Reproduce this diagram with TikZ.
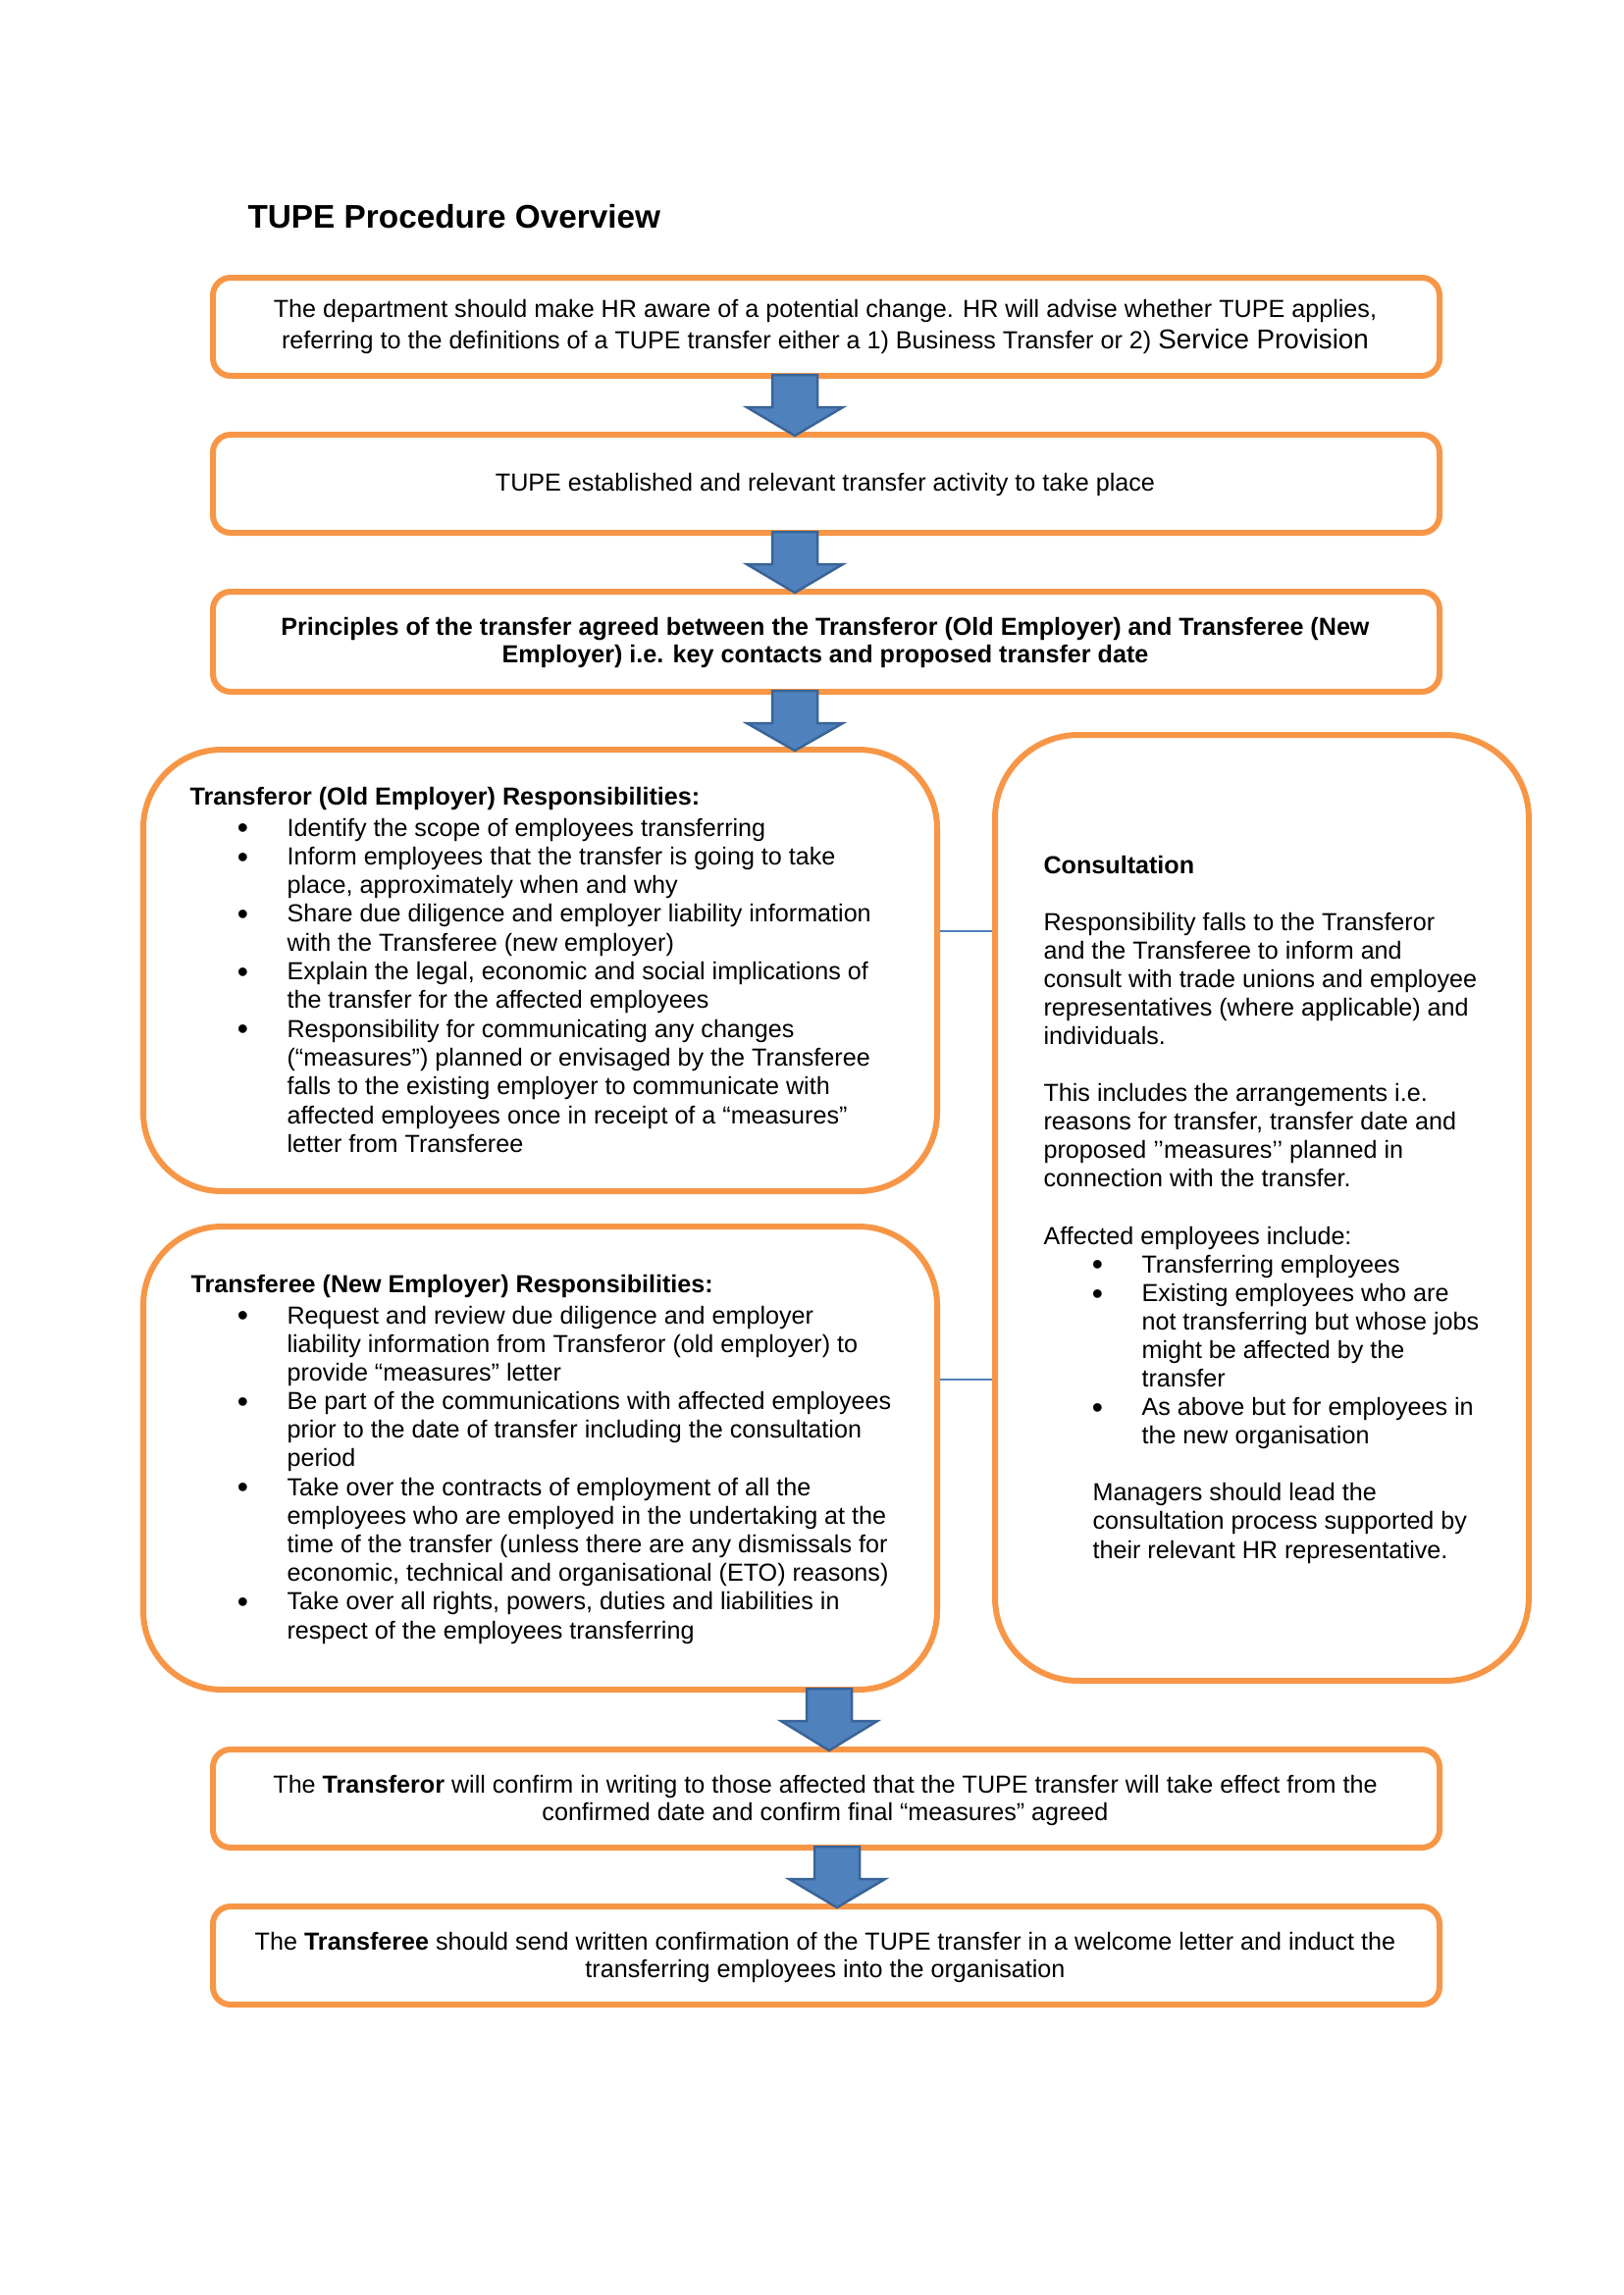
\documentclass[tikz,border=0pt]{standalone}
\usepackage{fontspec}
\setmainfont{Liberation Sans}
\usetikzlibrary{calc}
\definecolor{org}{HTML}{F79646}
\definecolor{blu}{HTML}{4F81BD}
\definecolor{bluD}{HTML}{3A6497}
\newcommand\CL[1]{\vtop{\halign{\hfil##\hfil\cr#1\crcr}}}
\newcommand\LL[1]{\vtop{\halign{##\hfil\cr#1\crcr}}}
\newcommand\bul{\llap{\raisebox{-1.0pt}{\fontsize{11.5pt}{0pt}\selectfont •}\hskip14.2pt}}
\newcommand\indA{\hskip36pt}
\newcommand\blockarrow[3]{%
  \draw[barrow] ($(#1 |- #2.south)+(-23,-4)$) -- ($(#1 |- #2.south)+(-23,29)$)
    -- ($(#1 |- #2.south)+(-49,29)$) -- ($(#1 |- #3.north)+(0,4)$)
    -- ($(#1 |- #2.south)+(49,29)$) -- ($(#1 |- #2.south)+(23,29)$)
    -- ($(#1 |- #2.south)+(23,-4)$) -- cycle;}
\tikzset{
  box/.style={draw=org, line width=2.16pt, rounded corners=6.5pt, inner sep=0pt,
    minimum width=450pt, minimum height=36pt},
  bigbox/.style={draw=org, line width=2.16pt, rounded corners=28.8pt, inner sep=0pt},
  txt/.style={inner sep=0pt, font=\fontsize{9.05pt}{10.51pt}\selectfont},
  barrow/.style={fill=blu, draw=bluD, line width=0.9pt, line join=miter},
  conn/.style={draw=blu, line width=0.55pt}
}
\begin{document}
\begin{tikzpicture}[x=0.36pt, y=-0.36pt]
\fill[white] (0,0) rectangle (1654,2339);
\path[use as bounding box] (0,0) rectangle (1654,2339);

% title
\node[anchor=base west, inner sep=0pt, font=\fontsize{12pt}{14pt}\selectfont\bfseries] (title) at (252,232) {TUPE Procedure Overview};

% boxes
\node[box] (b1) at (842,333) {};
\node[box] (b2) at (842,493) {};
\node[box, minimum height=36.72pt] (b3) at (842,654) {};
\node[bigbox, minimum width=291.24pt, minimum height=162pt] (bA) at (550.5,989) {};
\node[bigbox, minimum width=291.24pt, minimum height=169.92pt] (bB) at (550.5,1486) {};
\node[bigbox, rounded corners=30.6pt, minimum width=195.84pt, minimum height=347.04pt] (bC) at (1286,1231) {};
\node[box] (b5) at (842,1833) {};
\node[box] (b6) at (842,1993) {};

% texts
\node[txt, anchor=base, font=\fontsize{9.05pt}{11.52pt}\selectfont] (t1) at (841,323) {\CL{The department should make HR aware of a potential change. HR will advise whether TUPE applies,\cr
referring to the definitions of a TUPE transfer either a 1) Business Transfer or 2) {\fontsize{10pt}{11.52pt}\selectfont Service Provision}}};
\node[txt, anchor=base] (t2) at (841,500) {TUPE established and relevant transfer activity to take place};
\node[txt, anchor=base, font=\fontsize{9.05pt}{10.08pt}\selectfont\bfseries] (t3) at (841,647) {\CL{Principles of the transfer agreed between the Transferor (Old Employer) and Transferee (New\cr
Employer) i.e. key contacts and proposed transfer date}};

\node[txt, anchor=base west, font=\fontsize{9.05pt}{10.51pt}\selectfont\bfseries] (tAh) at (193,820) {Transferor (Old Employer) Responsibilities:};
\node[txt, anchor=base west, font=\fontsize{9.05pt}{10.55pt}\selectfont] (tA) at (292,852) {\LL{\bul Identify the scope of employees transferring\cr
\bul Inform employees that the transfer is going to take\cr
place, approximately when and why\cr
\bul Share due diligence and employer liability information\cr
with the Transferee (new employer)\cr
\bul Explain the legal, economic and social implications of\cr
the transfer for the affected employees\cr
\bul Responsibility for communicating any changes\cr
(“measures”) planned or envisaged by the Transferee\cr
falls to the existing employer to communicate with\cr
affected employees once in receipt of a “measures”\cr
letter from Transferee}};

\node[txt, anchor=base west, font=\fontsize{9.05pt}{10.51pt}\selectfont\bfseries] (tBh) at (194,1317) {Transferee (New Employer) Responsibilities:};
\node[txt, anchor=base west, font=\fontsize{9.05pt}{10.51pt}\selectfont] (tB) at (292,1349) {\LL{\bul Request and review due diligence and employer\cr
liability information from Transferor (old employer) to\cr
provide “measures” letter\cr
\bul Be part of the communications with affected employees\cr
prior to the date of transfer including the consultation\cr
period\cr
\bul Take over the contracts of employment of all the\cr
employees who are employed in the undertaking at the\cr
time of the transfer (unless there are any dismissals for\cr
economic, technical and organisational (ETO) reasons)\cr
\bul Take over all rights, powers, duties and liabilities in\cr
respect of the employees transferring}};

\node[txt, anchor=base west, font=\fontsize{9.05pt}{10.47pt}\selectfont] (tC) at (1063,890) {\LL{{\bfseries Consultation}\cr
\cr
Responsibility falls to the Transferor\cr
and the Transferee to inform and\cr
consult with trade unions and employee\cr
representatives (where applicable) and\cr
individuals.\cr
\cr
This includes the arrangements i.e.\cr
reasons for transfer, transfer date and\cr
proposed ’’measures’’ planned in\cr
connection with the transfer.\cr
\cr
Affected employees include:\cr
\indA\bul Transferring employees\cr
\indA\bul Existing employees who are\cr
\indA not transferring but whose jobs\cr
\indA might be affected by the\cr
\indA transfer\cr
\indA\bul As above but for employees in\cr
\indA the new organisation\cr
\cr
\hskip18pt Managers should lead the\cr
\hskip18pt consultation process supported by\cr
\hskip18pt their relevant HR representative.}};

\node[txt, anchor=base, font=\fontsize{9.05pt}{10.26pt}\selectfont] (t5) at (841,1827) {\CL{The {\bfseries Transferor} will confirm in writing to those affected that the TUPE transfer will take effect from the\cr
confirmed date and confirm final “measures” agreed}};
\node[txt, anchor=base, font=\fontsize{9.05pt}{10.26pt}\selectfont] (t6) at (841,1987) {\CL{The {\bfseries Transferee} should send written confirmation of the TUPE transfer in a welcome letter and induct the\cr
transferring employees into the organisation}};

% connectors
\coordinate (cy1) at (0,949);
\coordinate (cy2) at (0,1406);
\draw[conn] (bA.east |- cy1) -- (bC.west |- cy1);
\draw[conn] (bB.east |- cy2) -- (bC.west |- cy2);

% block arrows
\coordinate (ax1) at (810,0);
\coordinate (ax4) at (845,0);
\coordinate (ax5) at (853,0);
\blockarrow{ax1}{b1}{b2}
\blockarrow{ax1}{b2}{b3}
\blockarrow{ax1}{b3}{bA}
\blockarrow{ax4}{bB}{b5}
\blockarrow{ax5}{b5}{b6}
\end{tikzpicture}
\end{document}
